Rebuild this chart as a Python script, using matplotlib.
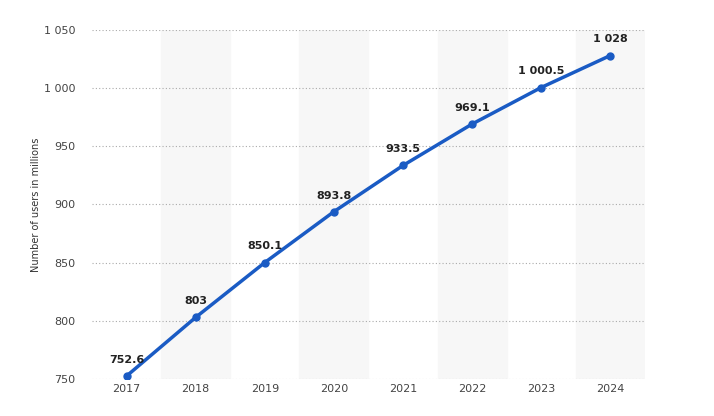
import matplotlib

matplotlib.use("Agg")
import matplotlib.pyplot as plt

years = [2017, 2018, 2019, 2020, 2021, 2022, 2023, 2024]
users = [752.6, 803, 850.1, 893.8, 933.5, 969.1, 1000.5, 1028]
labels = ["752.6", "803", "850.1", "893.8", "933.5", "969.1", "1 000.5", "1 028"]
yticks = [750, 800, 850, 900, 950, 1000, 1050]
ytick_labels = ["750", "800", "850", "900", "950", "1 000", "1 050"]

fig = plt.figure(figsize=(7.14, 4.16), dpi=100)
ax = fig.add_axes([0.129, 0.089, 0.774, 0.839])

for y in years[1::2]:
    ax.axvspan(y - 0.5, y + 0.5, color="#f7f7f7", zorder=0)

ax.plot(years, users, color="#1a5bc4", linewidth=2.5, marker="o", markersize=5, zorder=3)
for x, v, t in zip(years, users, labels):
    ax.annotate(t, (x, v), xytext=(0, 8), textcoords="offset points", ha="center", va="bottom",
                fontsize=8, fontweight="bold", color="#222222")

ax.set_xlim(2016.5, 2024.5)
ax.set_ylim(750, 1050)
ax.set_xticks(years)
ax.set_yticks(yticks)
ax.set_yticklabels(ytick_labels)
ax.tick_params(axis="both", length=0, labelsize=8, colors="#444444")
ax.tick_params(axis="y", pad=12)
ax.grid(axis="y", linestyle=(0, (1, 2)), color="#aaaaaa", linewidth=0.8)
ax.set_axisbelow(True)
for s in ax.spines.values():
    s.set_visible(False)
ax.set_ylabel("Number of users in millions", fontsize=7, color="#333333", labelpad=2)

fig.savefig("out.png", dpi=100)
